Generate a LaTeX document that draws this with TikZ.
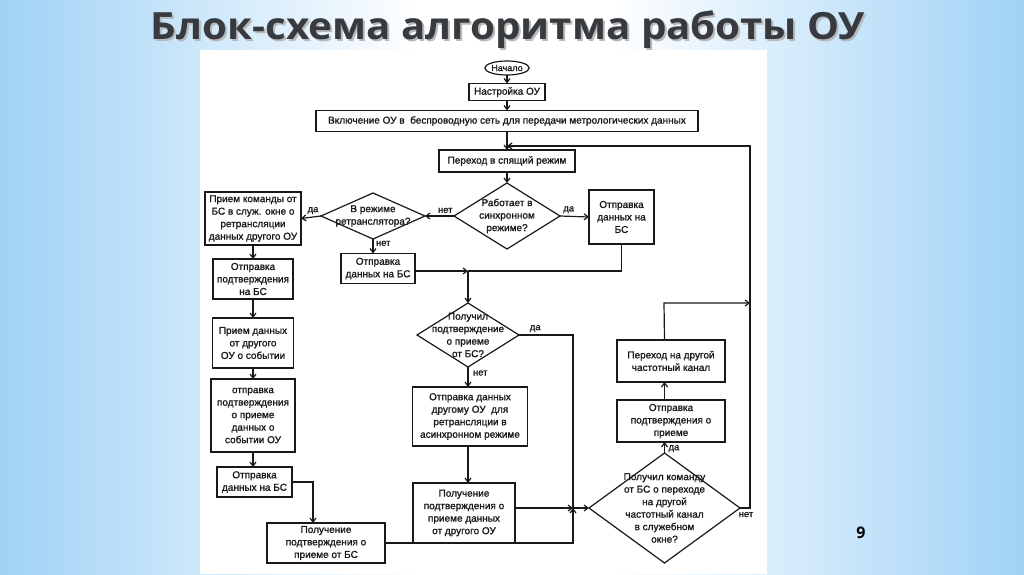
\documentclass[tikz,border=0pt]{standalone}
\usepackage{fontspec}
\setmainfont{Liberation Sans}
\newfontfamily\gost{Liberation Sans}[FakeBold=1.2]
\newfontfamily\titlefont{Open Sans}
\usetikzlibrary{arrows.meta,shapes.geometric,calc}
\definecolor{bgblue}{RGB}{160,210,246}
\definecolor{ink}{RGB}{25,25,25}
\definecolor{titleink}{RGB}{55,58,62}
\begin{document}
\begin{tikzpicture}[x=1pt,y=-1pt,
  every node/.style={inner sep=0pt, outer sep=0pt},
  blk/.style={draw=ink, line width=1.2pt, rectangle, align=center, font=\gost\fontsize{10}{12.5}\selectfont, text=ink},
  dia/.style={rectangle, align=center, font=\gost\fontsize{10}{12.5}\selectfont, text=ink},
  lbl/.style={font=\gost\fontsize{9.5}{11}\selectfont, text=ink},
  ln/.style={draw=ink, line width=1.2pt},
  arr/.style={ln, -{Straight Barb[length=4pt,width=6pt]}},
]
\useasboundingbox (0,0) rectangle (1024,574);
% background
\shade[left color=bgblue, right color=white] (0,0) rectangle (420,574);
\fill[white] (420,0) rectangle (610,574);
\shade[left color=white, right color=bgblue] (610,0) rectangle (1024,574);
\fill[white] (200,50) rectangle (767,574);
% title
\node[anchor=base, text=gray!55, font=\titlefont\bfseries\fontsize{37.5}{40}\selectfont] at (510,41.3) {\scalebox{1.075}[1]{Блок-схема алгоритма работы ОУ}};
\node[anchor=base, text=titleink, font=\titlefont\bfseries\fontsize{37.5}{40}\selectfont] (title) at (508,39.3) {\scalebox{1.075}[1]{Блок-схема алгоритма работы ОУ}};
\node[text=black, font=\titlefont\bfseries\fontsize{16}{16}\selectfont] (pg) at (861,533) {9};

% main column
\node[draw=ink, line width=1.2pt, ellipse, minimum width=40pt, minimum height=14pt, inner sep=0pt, font=\gost\fontsize{9}{10}\selectfont, text=ink] (start) at (507,68) {Начало};
\node[blk, minimum width=76pt, minimum height=17pt] (setup) at (507,92) {Настройка ОУ};
\node[blk, minimum width=382pt, minimum height=21pt] (incl) at (507,121) {Включение ОУ в \ беспроводную сеть для передачи метрологических данных};
\coordinate (m1) at (507,146);
\node[blk, minimum width=136pt, minimum height=22pt] (sleep) at (507,161) {Переход в спящий режим};

\node[dia, minimum width=106pt, minimum height=66pt] (sync) at (507,216) {Работает в\\синхронном\\режиме?};
\draw[ln] (sync.north)--(sync.east)--(sync.south)--(sync.west)--cycle;

\node[dia, minimum width=104pt, minimum height=46pt] (relay) at (373,216) {В режиме\\ретранслятора?};
\draw[ln] (relay.north)--(relay.east)--(relay.south)--(relay.west)--cycle;

\node[blk, minimum width=96pt, minimum height=53pt] (cmd) at (253,218.5) {Прием команды от\\БС в служ. окне о\\ретрансляции\\данных другого ОУ};
\node[blk, minimum width=65pt, minimum height=54pt] (sendR) at (621.5,217) {Отправка\\данных на\\БС};
\node[blk, minimum width=74pt, minimum height=30pt] (sendM) at (378,268.5) {Отправка\\данных на БС};
\node[blk, minimum width=80pt, minimum height=40pt] (ack1) at (253,279) {Отправка\\подтверждения\\на БС};

\coordinate (j1) at (468,271);
\node[dia, minimum width=102pt, minimum height=64pt] (gotack) at (468,335) {Получил\\подтверждение\\о приеме\\от БС?};
\draw[ln] (gotack.north)--(gotack.east)--(gotack.south)--(gotack.west)--cycle;

\node[blk, minimum width=81pt, minimum height=50pt] (recv) at (253,343) {Прием данных\\от другого\\ОУ о событии};
\node[blk, minimum width=115pt, minimum height=59pt] (async) at (470,416.5) {Отправка данных\\другому ОУ \ для\\ретрансляции в\\асинхронном режиме};
\node[blk, minimum width=84pt, minimum height=73pt] (ackev) at (253,415.5) {отправка\\подтверждения\\о приеме\\данных о\\событии ОУ};
\node[blk, minimum width=75pt, minimum height=30pt] (sendL) at (254.5,482) {Отправка\\данных на БС};
\node[blk, minimum width=102pt, minimum height=60pt] (gotack2) at (464,513) {Получение\\подтверждения о\\приеме данных\\от другого ОУ};
\node[blk, minimum width=118pt, minimum height=40pt] (bsack) at (326,543) {Получение\\подтверждения о\\приеме от БС};

\coordinate (m2) at (573,508);
\node[dia, minimum width=151pt, minimum height=110pt] (cmdq) at (664.5,508) {Получил команду\\от БС о переходе\\на другой\\частотный канал\\в служебном\\окне?};
\draw[ln] (cmdq.north)--(cmdq.east)--(cmdq.south)--(cmdq.west)--cycle;
\node[blk, minimum width=108pt, minimum height=42pt] (ackq) at (671,421) {Отправка\\подтверждения о\\приеме};
\node[blk, minimum width=108pt, minimum height=42pt] (chan) at (671,361) {Переход на другой\\частотный канал};

% connectors
\draw[arr] (start.south) -- (setup.north);
\draw[arr] (setup.south) -- (incl.north);
\draw[arr] (incl.south) -- (sleep.north);
\draw[arr] (sleep.south) -- (sync.north);
\draw[arr] (sync.west) -- (relay.east) node[lbl, pos=0.3, above=3pt] {нет};
\draw[arr] (sync.east) -- (sendR.west) node[lbl, pos=0.3, above=3pt] {да};
\draw[arr] (relay.west) -- (cmd.east) node[lbl, pos=0.4, above=3pt] {да};
\draw[arr] (relay.south) -- (relay.south |- sendM.north) node[lbl, pos=0.3, right=3pt] {нет};
\draw[arr] (cmd.south) -- (cmd.south |- ack1.north);
\draw[arr] (ack1.south) -- (recv.north);
\draw[arr] (recv.south) -- (ackev.north);
\draw[arr] (ackev.south) -- (ackev.south |- sendL.north);
\coordinate (c13) at (313,482);
\draw[arr] (sendL.east) -- (c13) -- (c13 |- bsack.north);
\draw[arr] (sendM.east |- j1) -- (j1);
\draw[ln] (sendR.south) |- (j1);
\draw[arr] (j1) -- (gotack.north);
\coordinate (c15) at (573,335);
\draw[ln] (gotack.east) -- (c15) node[lbl, pos=0.3, above=3pt] {да} -- (c15 |- bsack.east);
\draw[arr] (gotack.south) -- (gotack.south |- async.north) node[lbl, pos=0.3, right=5pt] {нет};
\draw[arr] (gotack.south |- async.south) -- (gotack.south |- gotack2.north);
\draw[arr] (gotack2.east |- m2) -- (m2);
\draw[arr] (bsack.east) -| (m2);
\draw[arr] (m2) -- (cmdq.west);
\draw[arr] (cmdq.north) -- (cmdq.north |- ackq.south) node[lbl, pos=0.4, right=4pt] {да};
\draw[arr] (cmdq.north |- ackq.north) -- (cmdq.north |- chan.south);
\coordinate (c21) at (664,303);
\coordinate (rt) at (750,303);
\draw[arr] (cmdq.north |- chan.north) -- (c21) -- (rt);
\coordinate (c22) at (750,508);
\draw[arr] (cmdq.east) -- (c22) node[lbl, pos=0.6, below=4pt] {нет} -- (c22 |- m1) -- (m1);
\end{tikzpicture}
\end{document}
